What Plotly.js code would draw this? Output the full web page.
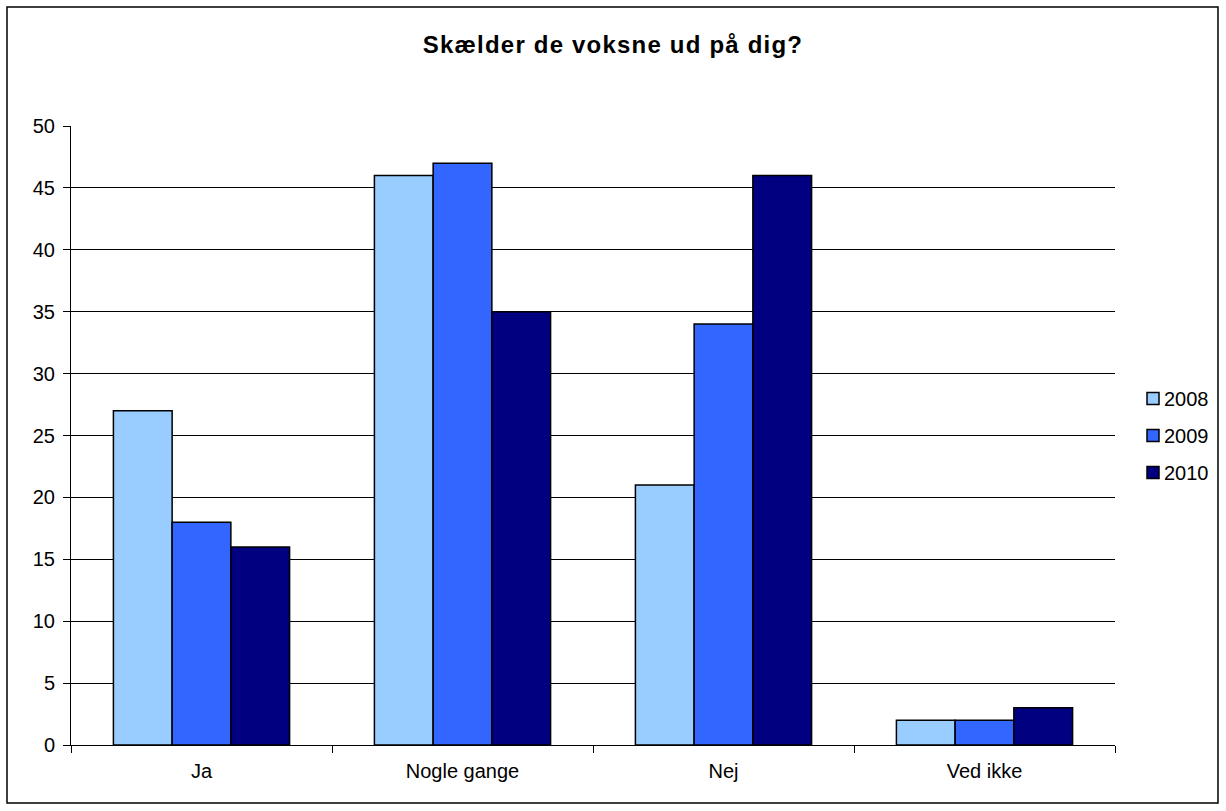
<!DOCTYPE html>
<html>
<head>
<meta charset="utf-8">
<script src="https://cdn.plot.ly/plotly-3.0.1.min.js"></script>
<style>
html,body{margin:0;padding:0;background:#fff;}
#chart{width:1226px;height:811px;}
.gtitle{letter-spacing:1.2px;}
.legendtext{transform:translateX(-9px);}
</style>
</head>
<body>
<div id="chart"></div>
<script>
const categories = ["Ja", "Nogle gange", "Nej", "Ved ikke"];
const seriesNames = ["2008", "2009", "2010"];
const values2008 = [27, 46, 21, 2];
const values2009 = [18, 47, 34, 2];
const values2010 = [16, 35, 46, 3];
const yTicks = [0, 5, 10, 15, 20, 25, 30, 35, 40, 45, 50];
const colors = ["#99CCFF", "#3366FF", "#000080"];

const allValues = [values2008, values2009, values2010];
const traces = allValues.map((v, i) => ({
  type: "bar",
  name: seriesNames[i],
  legendgroup: "g" + i,
  x: categories,
  y: v,
  marker: {color: colors[i], line: {color: "#000", width: 1.5}},
  hoverinfo: "x+y+name"
}));

const FONT = "Liberation Sans, Arial, sans-serif";
const layout = {
  width: 1226, height: 811,
  margin: {l: 71, r: 111, t: 126, b: 66, autoexpand: false},
  paper_bgcolor: "#fff", plot_bgcolor: "#fff",
  font: {family: FONT, size: 20, color: "#000"},
  title: {text: "<b>Skælder de voksne ud på dig?</b>", x: 0.5, xanchor: "center", y: 1 - 45/811, yanchor: "middle",
          font: {size: 24, family: FONT, color: "#000"}},
  barmode: "group",
  bargap: 0.325,
  bargroupgap: 0,
  xaxis: {
    showgrid: false, showline: true, linecolor: "#000", linewidth: 1,
    ticks: "outside", tickson: "boundaries", ticklen: 7, tickcolor: "#000",
    tickfont: {size: 20, family: FONT}, ticklabelstandoff: 8
  },
  yaxis: {
    range: [0, 50], tickvals: yTicks, ticktext: yTicks.map(String),
    showgrid: true, gridcolor: "#000", gridwidth: 1,
    showline: true, linecolor: "#000", linewidth: 1,
    ticks: "outside", ticklen: 7, tickcolor: "#000",
    zeroline: false, tickfont: {size: 20, family: FONT}, ticklabelstandoff: 4
  },
  legend: {
    x: 1 + 18/1044, xanchor: "left", y: 0.5, yanchor: "middle",
    font: {size: 20, family: FONT}, bgcolor: "rgba(0,0,0,0)",
    itemwidth: 30, tracegroupgap: 8
  },
  showlegend: true,
  shapes: [{
    type: "rect", xref: "paper", yref: "paper",
    x0: (7 - 71) / 1044, x1: (1218 - 71) / 1044,
    y0: (745 - 803) / 619, y1: (745 - 7) / 619,
    line: {color: "#000", width: 1.5}, fillcolor: "rgba(0,0,0,0)", layer: "below"
  }]
};

Plotly.newPlot("chart", traces, layout, {displayModeBar: false, staticPlot: true});
</script>
</body>
</html>
